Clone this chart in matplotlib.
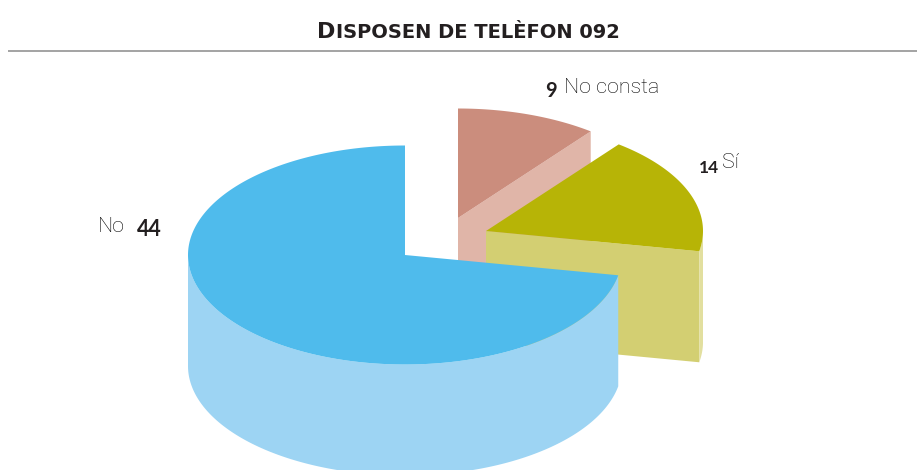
import numpy as np
import matplotlib
matplotlib.use('Agg')
import matplotlib.pyplot as plt

#--chart data, clockwise from 12 o'clock
labels=['No consta','Sí','No']
values=[9,14,44]
title_cap='D'
title_rest='ISPOSEN DE TELÈFON 092'

#--colours per slice: top, cut face, outer wall
col_top=['#CB8D7D','#B7B406','#4FBBEC']
col_face=['#E0B5A8','#D3CF72','#9DD4F3']
col_wall=['#E0B5A8','#E2DF9F','#9DD4F3']

#--geometry of the fake 3D pie, in pixels
cx=405 ; cy=255 ; a=217 ; b=109.5 ; depth=111
explode=[(53,-37),(81,-24),(0,0)]

fig=plt.figure(figsize=(9.17,4.7),dpi=100)
ax=fig.add_axes([0,0,1,1])
ax.set_xlim(0,917)
ax.set_ylim(470,0)
ax.axis('off')

#--perspective squeezes the back of the pie: sweep angles are warped
cum=np.concatenate(([0],np.cumsum(values)))/np.sum(values)*360.
warp=cum-26*np.sin(np.radians(cum/2))

def pt(t,x0,y0):
  return x0+a*np.cos(np.radians(t)),y0-b*np.sin(np.radians(t))

for i in range(len(values)):
  x0=cx+explode[i][0] ; y0=cy+explode[i][1]
  t1=90-warp[i] ; t2=90-warp[i+1]     #--t1 ccw end, t2 cw end
  t=np.linspace(t2,t1,300)
  xa,ya=pt(t,x0,y0)
  #--cut face on the clockwise edge
  xe,ye=pt(t2,x0,y0)
  ax.fill([x0,xe,xe,x0],[y0,ye,ye+depth,y0+depth],color=col_face[i],lw=0,zorder=i*3+1)
  #--outer wall: front part of the rim only
  front=np.sin(np.radians(t))<=0
  if front.any():
    ax.fill(np.r_[xa[front],xa[front][::-1]],np.r_[ya[front],ya[front][::-1]+depth],color=col_wall[i],lw=0,zorder=i*3+2)
  #--top
  ax.fill(np.r_[x0,xa],np.r_[y0,ya],color=col_top[i],lw=0,zorder=i*3+3)

#--title and rule
dark='#231F20'
ax.text(317,38.5,title_cap,fontfamily='DejaVu Sans',fontweight='bold',fontsize=16,color=dark,ha='left',va='baseline')
ax.text(336,38.5,title_rest,fontfamily='DejaVu Sans',fontweight='bold',fontsize=14,color=dark,ha='left',va='baseline')
ax.plot([8,917],[51,51],color='#8A8A8A',lw=1.1,solid_capstyle='butt')

#--labels
lab=dict(fontfamily='Roboto',fontweight='light',fontsize=15.4,color='#000000',ha='left',va='baseline')
num=dict(fontfamily='Lato',fontweight='bold',color=dark,ha='left',va='baseline')
ax.text(545,97,str(values[0]),fontsize=14.5,**num)
ax.text(564,93,labels[0],**lab)
ax.text(699,173,str(values[1]),fontsize=12.5,**num)
ax.text(722,168,labels[1],**lab)
ax.text(98,232,labels[2],**lab)
ax.text(137,236,str(values[2]),fontsize=15.5,**num)

fig.savefig('out.png',dpi=100)
